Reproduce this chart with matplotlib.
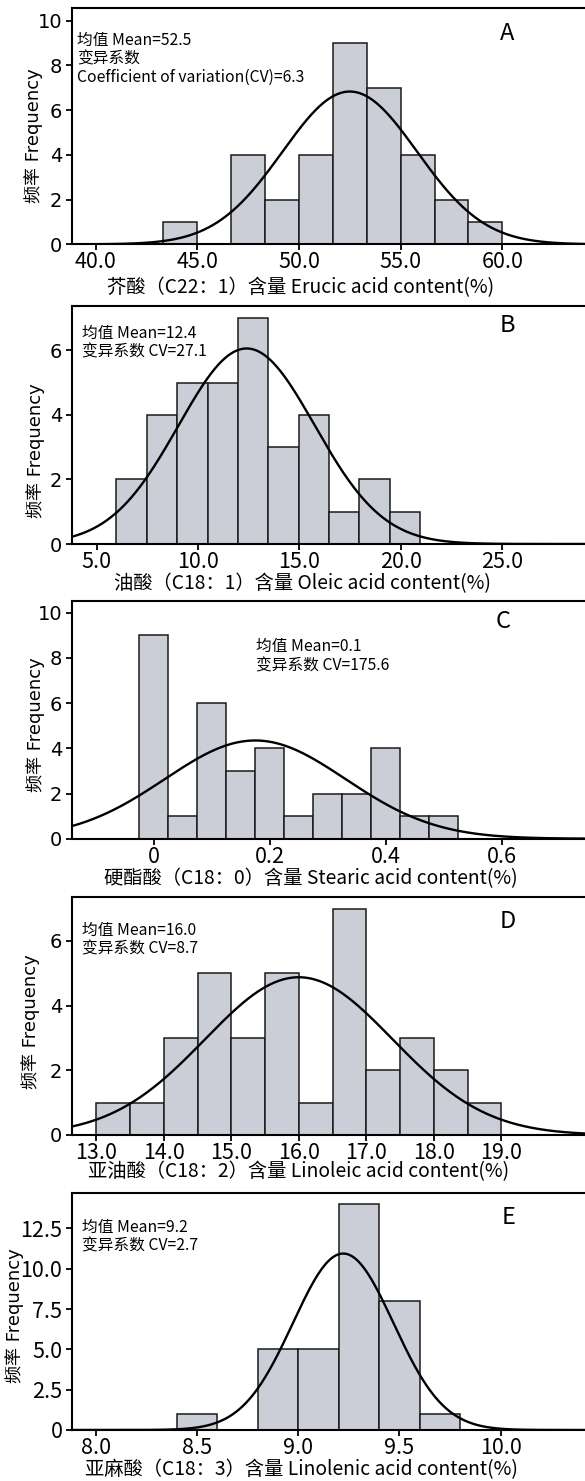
import numpy as np
import matplotlib
matplotlib.use('Agg')
import matplotlib.pyplot as plt
from matplotlib.ticker import FuncFormatter

plt.rcParams['font.family'] = ['Noto Sans CJK SC', 'DejaVu Sans']

# 数据
letters = ['A', 'B', 'C', 'D', 'E']
xlabels = ['芥酸（C22：1）含量 Erucic acid content(%)',
           '油酸（C18：1）含量 Oleic acid content(%)',
           '硬酯酸（C18：0）含量 Stearic acid content(%)',
           '亚油酸（C18：2）含量 Linoleic acid content(%)',
           '亚麻酸（C18：3）含量 Linolenic acid content(%)']
stat_lines = [['均值 Mean=52.5', '变异系数', 'Coefficient of variation(CV)=6.3'],
              ['均值 Mean=12.4', '变异系数 CV=27.1'],
              ['均值 Mean=0.1', '变异系数 CV=175.6'],
              ['均值 Mean=16.0', '变异系数 CV=8.7'],
              ['均值 Mean=9.2', '变异系数 CV=2.7']]

bin_start = [43.333, 5.97, -0.025, 13.0, 8.4]
bin_width = [1.6667, 1.5, 0.05, 0.5, 0.2]
counts_A = [1, 0, 4, 2, 4, 9, 7, 4, 2, 1]
counts_B = [2, 4, 5, 5, 7, 3, 4, 1, 2, 1]
counts_C = [9, 1, 6, 3, 4, 1, 2, 2, 4, 1, 1]
counts_D = [1, 1, 3, 5, 3, 5, 1, 7, 2, 3, 2, 1]
counts_E = [1, 0, 5, 5, 14, 8, 1]
counts = [counts_A, counts_B, counts_C, counts_D, counts_E]

# 正态拟合曲线参数 (均值, 标准差)
fit_mu = [52.5, 12.4, 0.175, 16.0, 9.222]
fit_sd = [3.31, 3.36, 0.156, 1.39, 0.248]

xticks = [[40, 45, 50, 55, 60], [5, 10, 15, 20, 25], [0, 0.2, 0.4, 0.6],
          [13, 14, 15, 16, 17, 18, 19], [8.0, 8.5, 9.0, 9.5, 10.0]]
yticks = [[0, 2, 4, 6, 8, 10], [0, 2, 4, 6], [0, 2, 4, 6, 8, 10],
          [0, 2, 4, 6], [0, 2.5, 5.0, 7.5, 10.0, 12.5]]
xlims = [(38.834, 64.07), (3.78, 29.1), (-0.141, 0.744), (12.64, 20.24), (7.883, 10.416)]
ylims = [10.55, 7.38, 10.52, 7.37, 14.71]

# 版式（像素）
W, H = 585, 1481
tops = [8.3, 305.7, 601, 896.7, 1192.7]
bottoms = [244.3, 544, 838.7, 1135, 1430]
stat_pos = [(5, 31.7, 18.7), (10.3, 27.6, 18.4), (184, 45.7, 19), (10.3, 33.3, 19), (10.3, 35, 18.3)]
letter_pos = [(435, 24.7), (435, 19.3), (431, 20.7), (436, 25), (437, 25.3)]
xlab_pos = [(301, 43.5), (302.6, 39.5), (311, 40), (298.5, 37), (301, 39.5)]
ylab_pos = [(34, 136), (36, 451), (36, 725), (31, 1022), (15, 1316)]

fig = plt.figure(figsize=(W / 100, H / 100), dpi=100)

for i in range(5):
    top, bot = tops[i], bottoms[i]
    h = bot - top
    ax = fig.add_axes([72 / W, 1 - bot / H, 513 / W, h / H])
    c = np.array(counts[i])
    edges = bin_start[i] + bin_width[i] * np.arange(len(c) + 1)
    ax.bar(edges[:-1], c, width=bin_width[i], align='edge', color='#cbced6',
           edgecolor='#1a1a1a', linewidth=1.1, zorder=2)
    x = np.linspace(xlims[i][0], xlims[i][1], 500)
    y = c.sum() * bin_width[i] / (fit_sd[i] * np.sqrt(2 * np.pi)) * \
        np.exp(-0.5 * ((x - fit_mu[i]) / fit_sd[i]) ** 2)
    ax.plot(x, y, color='black', linewidth=1.7, zorder=3)

    ax.set_xlim(*xlims[i])
    ax.set_ylim(0, ylims[i])
    ax.set_xticks(xticks[i])
    ax.set_yticks(yticks[i])
    if i == 2:
        ax.xaxis.set_major_formatter(FuncFormatter(lambda v, p: '0' if v == 0 else f'{v:g}'))
    else:
        ax.xaxis.set_major_formatter(FuncFormatter(lambda v, p: f'{v:.1f}'))
    if i == 4:
        ax.yaxis.set_major_formatter(FuncFormatter(lambda v, p: '0' if v == 0 else f'{v:.1f}'))
    else:
        ax.yaxis.set_major_formatter(FuncFormatter(lambda v, p: f'{v:g}'))
    ax.tick_params(axis='both', direction='out', length=4, width=1.3)
    ax.tick_params(axis='x', pad=1, labelsize=15.5)
    ax.tick_params(axis='y', pad=3)
    if i == 4:
        ax.tick_params(axis='y', labelsize=15.5)
    else:
        ax.tick_params(axis='y', labelsize=14)
        for t in ax.get_yticklabels():
            t.set_family(['DejaVu Sans'])
    ax.spines['right'].set_visible(False)
    for s in ['left', 'bottom', 'top']:
        ax.spines[s].set_linewidth(1.5)

    ax.set_xlabel(xlabels[i], fontsize=13.9)
    ax.xaxis.set_label_coords((xlab_pos[i][0] - 72) / 513, -xlab_pos[i][1] / h)
    ax.xaxis.label.set_va('center')
    ax.set_ylabel('频率 Frequency', fontsize=13, family=['DejaVu Sans', 'Noto Sans CJK SC'])
    ax.yaxis.set_label_coords((ylab_pos[i][0] - 72) / 513, (bot - ylab_pos[i][1]) / h)
    ax.yaxis.label.set_va('center')

    dx, dy, sp = stat_pos[i]
    for k, line in enumerate(stat_lines[i]):
        ax.annotate(line, xy=(0, 1), xycoords='axes fraction',
                    xytext=(dx, -(dy + k * sp)), textcoords='offset pixels',
                    ha='left', va='center', fontsize=11.3)
    ax.annotate(letters[i], xy=(0, 1), xycoords='axes fraction',
                xytext=(letter_pos[i][0], -letter_pos[i][1]), textcoords='offset pixels',
                ha='center', va='center', fontsize=17)

fig.savefig('out.png', dpi=100)
